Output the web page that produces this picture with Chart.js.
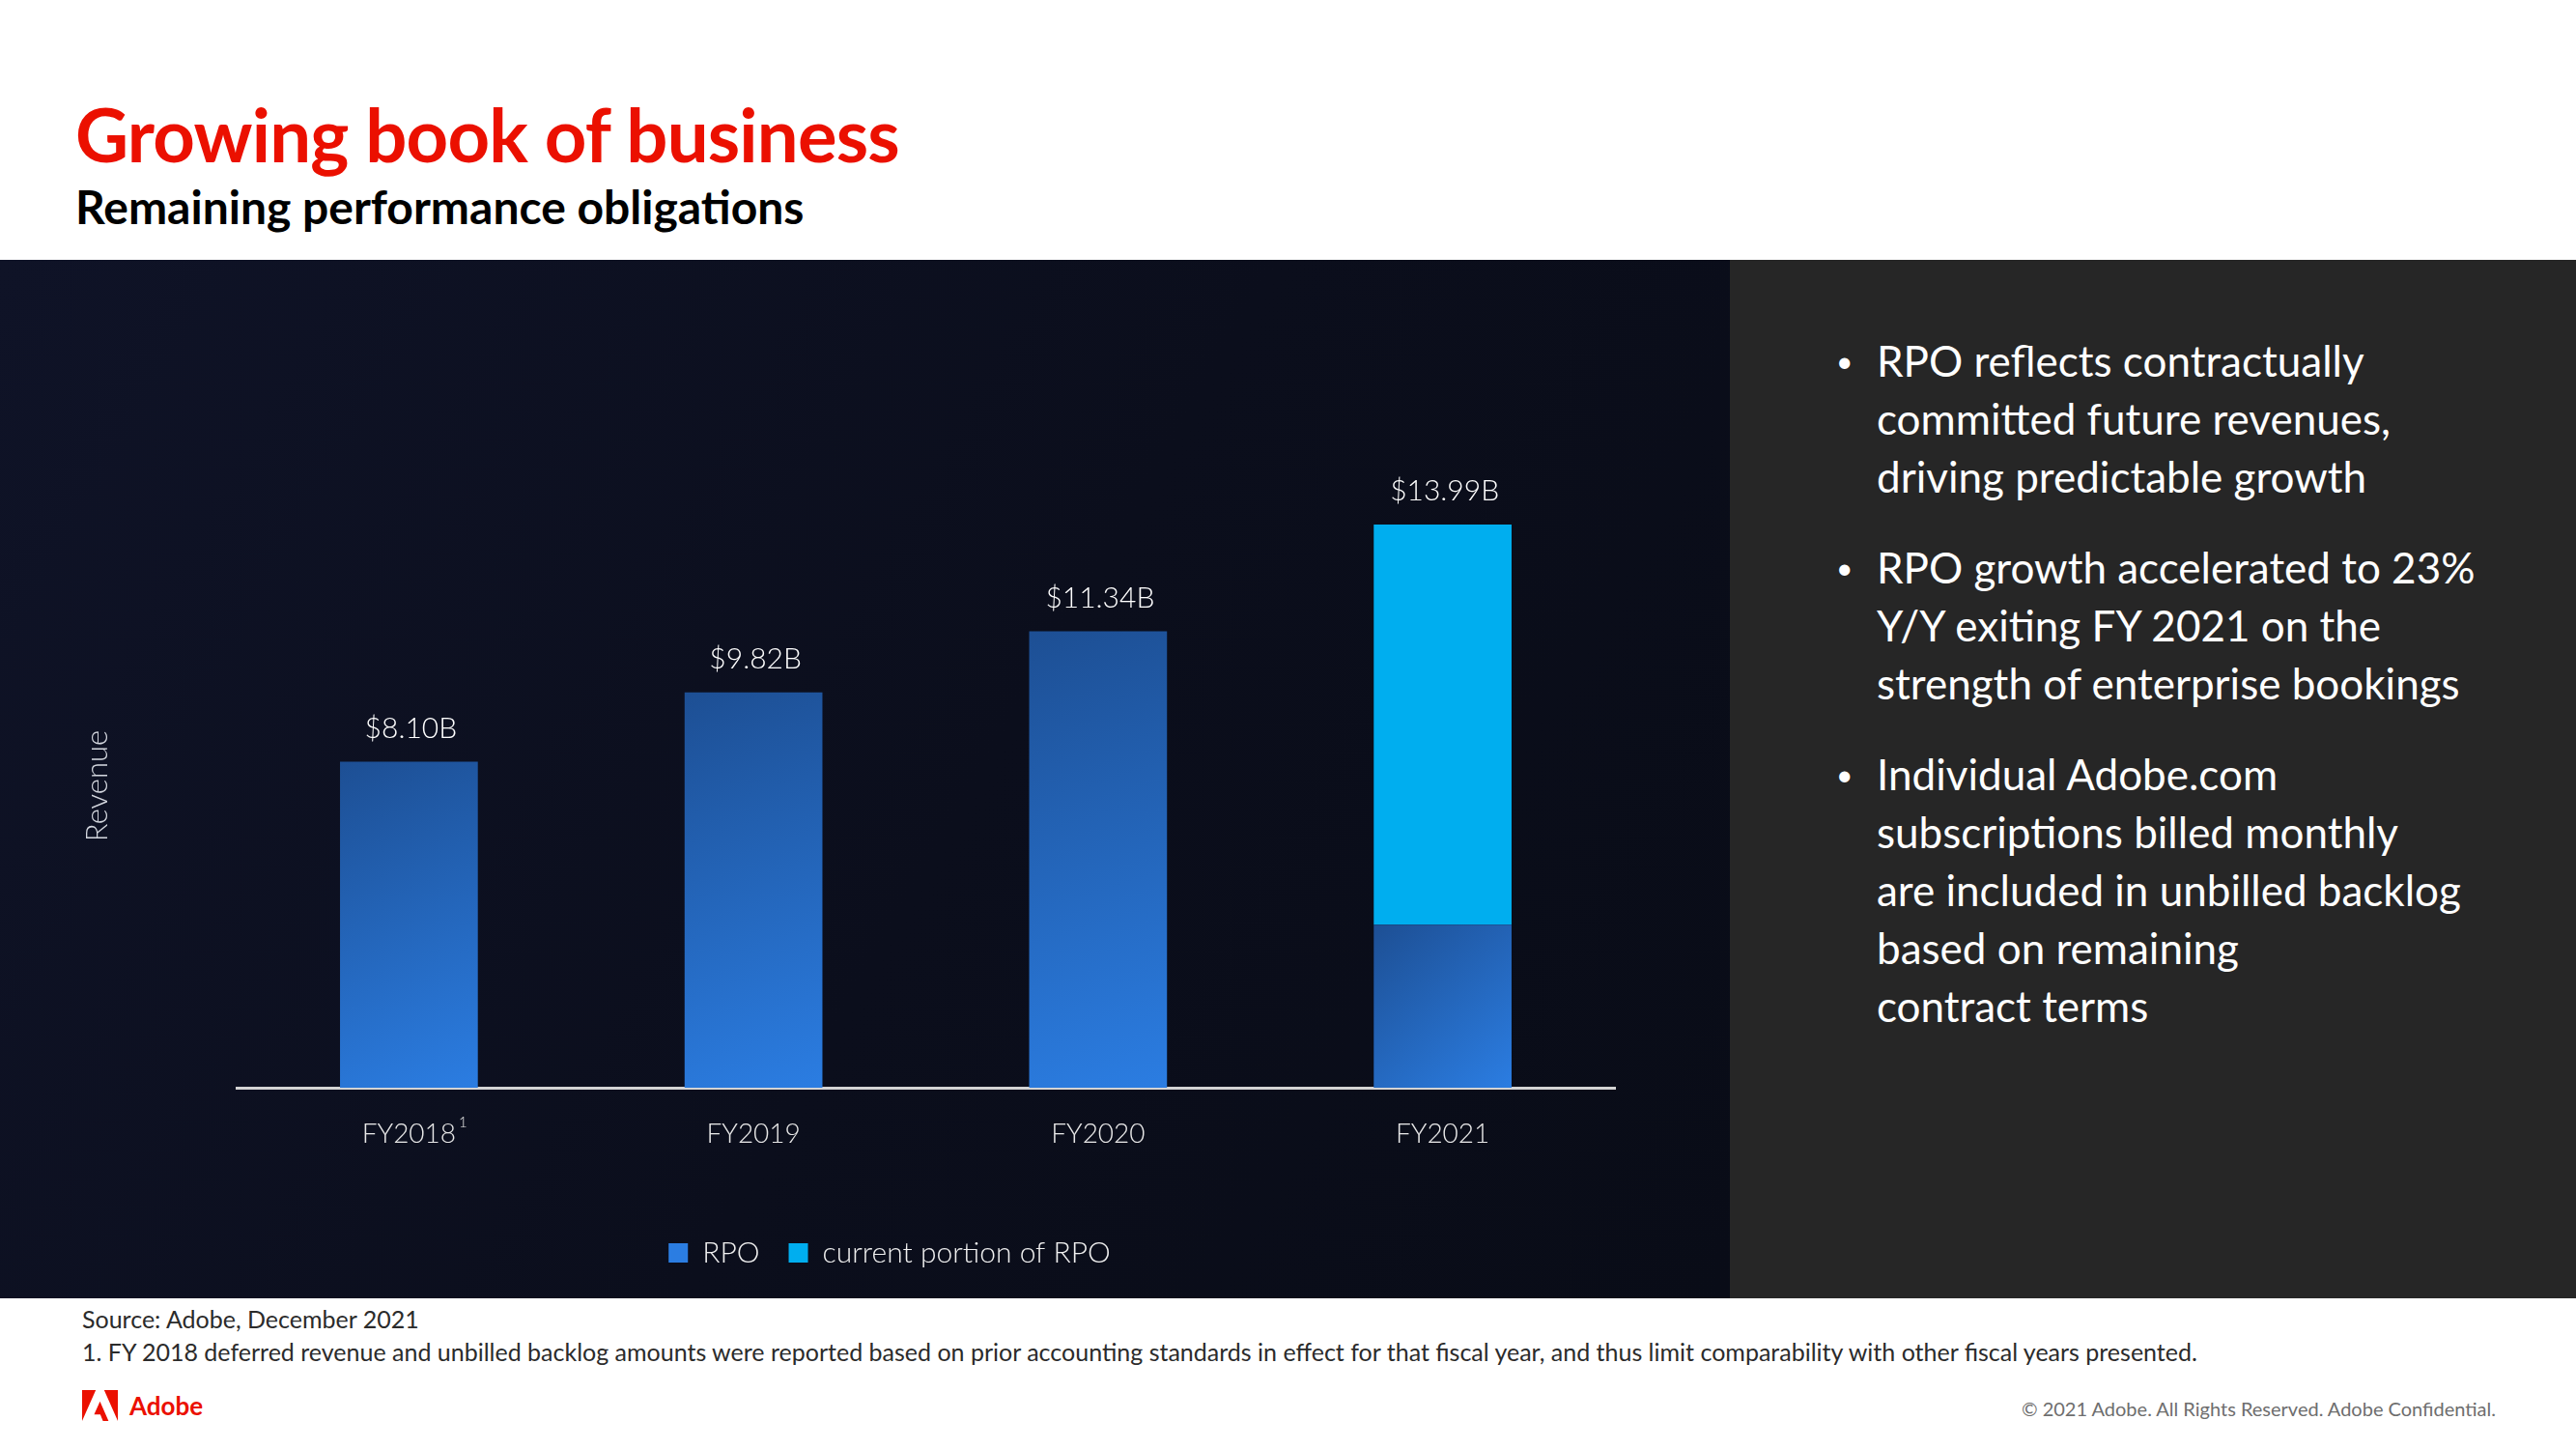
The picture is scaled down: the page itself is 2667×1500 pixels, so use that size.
<!DOCTYPE html>
<html>
<head>
<meta charset="utf-8">
<script src="https://cdn.jsdelivr.net/npm/chart.js@4"></script>
<style>
  html, body { margin: 0; padding: 0; }
  body { width: 2667px; height: 1500px; position: relative; overflow: hidden; background: #fff; font-family: Lato, "Open Sans", sans-serif; }
  .abs { position: absolute; white-space: nowrap; line-height: 1; }
  #title { left: 78px; top: 101px; font-size: 76px; font-weight: 700; color: #eb1000; letter-spacing: -0.8px; }
  #subtitle { left: 78px; top: 190px; font-size: 48px; font-weight: 700; color: #000; }
  #darkPanel { position: absolute; left: 0; top: 269px; width: 1791px; height: 1075px; background: linear-gradient(120deg, #0f1327 0%, #0b0e1c 55%, #090c17 100%); }
  #notesPanel { position: absolute; left: 1791px; top: 269px; width: 876px; height: 1075px; background: #262626; }
  #chartBox { position: absolute; left: 0; top: 269px; width: 1791px; height: 1075px; }
  #notes { position: absolute; left: 1943px; top: 343px; margin: 0; padding: 0; list-style: none; color: #fff; font-size: 44px; font-weight: 400; }
  #notes li { position: relative; line-height: 60px; margin-bottom: 34px; white-space: nowrap; }
  #notes li::before { content: "\2022"; position: absolute; left: -42px; top: 0; font-size: 30px; }
  #source { left: 85px; top: 1353px; font-size: 25px; color: #2b2b2b; }
  #footnote { left: 85px; top: 1387px; font-size: 25px; color: #2b2b2b; }
  #copy { right: 83px; top: 1448px; font-size: 20px; color: #6e6e6e; }
  #logo { position: absolute; left: 85px; top: 1438px; width: 37px; height: 34px; }
  #logoText { left: 134px; top: 1442px; font-size: 26px; font-weight: 700; color: #eb1000; }
</style>
</head>
<body>
<div id="title" class="abs">Growing book of business</div>
<div id="subtitle" class="abs">Remaining performance obligations</div>
<div id="darkPanel"></div>
<div id="notesPanel"></div>
<div id="chartBox"><canvas id="myChart"></canvas></div>
<ul id="notes">
  <li>RPO reflects contractually<br>committed future revenues,<br>driving predictable growth</li>
  <li>RPO growth accelerated to 23%<br>Y/Y exiting FY 2021 on the<br>strength of enterprise bookings</li>
  <li>Individual Adobe.com<br>subscriptions billed monthly<br>are included in unbilled backlog<br>based on remaining<br>contract terms</li>
</ul>
<div id="source" class="abs">Source: Adobe, December 2021</div>
<div id="footnote" class="abs">1. FY 2018 deferred revenue and unbilled backlog amounts were reported based on prior accounting standards in effect for that fiscal year, and thus limit comparability with other fiscal years presented.</div>
<svg id="logo" viewBox="0 0 30 26"><path fill="#eb1000" d="M11.5 0H0v26zM18.5 0H30v26zM15 9.6l7.2 16.4h-4.7l-2.2-5.4h-5.2z"/></svg>
<div id="logoText" class="abs">Adobe</div>
<div id="copy" class="abs">© 2021 Adobe. All Rights Reserved. Adobe Confidential.</div>

<script>
// values in $B
var years = ['FY2018', 'FY2019', 'FY2020', 'FY2021'];
var footMarks = ['1', '', '', ''];
var rpo = [8.10, 9.82, 11.34, 4.05];
var currentRpo = [0, 0, 0, 9.94];
var seriesNames = ['RPO', 'current portion of RPO'];
var yMax = 15;

var BAR_TOP = '#1d4f94';
var BAR_BOTTOM = '#2b7de2';
var CYAN = '#00aeef';
var LIGHT = '300 ';
var FAMILY = 'Lato, "Open Sans", sans-serif';

Chart.defaults.font.family = FAMILY;
Chart.defaults.color = '#e8e8e8';

function rpoFill(context) {
  var chart = context.chart;
  if (!chart.chartArea) return BAR_BOTTOM;
  var xs = chart.scales.x, ys = chart.scales.y;
  var cx = xs.getPixelForValue(context.dataIndex);
  var half = xs.width / years.length * 0.4 / 2;
  var top = ys.getPixelForValue(rpo[context.dataIndex]);
  var g = chart.ctx.createLinearGradient(cx - half, top, cx + half, ys.getPixelForValue(0));
  g.addColorStop(0, BAR_TOP);
  g.addColorStop(1, BAR_BOTTOM);
  return g;
}

var totalsPlugin = {
  id: 'totals',
  afterDatasetsDraw: function(chart) {
    var ctx = chart.ctx, xs = chart.scales.x, ys = chart.scales.y;
    ctx.save();
    ctx.fillStyle = '#ffffff';
    ctx.textAlign = 'center';
    ctx.textBaseline = 'alphabetic';
    ctx.font = LIGHT + '30px ' + FAMILY;
    for (var i = 0; i < years.length; i++) {
      var total = rpo[i] + currentRpo[i];
      ctx.fillText('$' + total.toFixed(2) + 'B', xs.getPixelForValue(i) + 2, ys.getPixelForValue(total) - 25);
    }
    // footnote marks next to the tick labels
    for (var j = 0; j < years.length; j++) {
      if (!footMarks[j]) continue;
      ctx.font = LIGHT + '28px ' + FAMILY;
      var w = ctx.measureText(years[j]).width;
      ctx.font = LIGHT + '15px ' + FAMILY;
      ctx.fillStyle = '#e8e8e8';
      ctx.textAlign = 'left';
      ctx.textBaseline = 'top';
      ctx.fillText(footMarks[j], xs.getPixelForValue(j) + w / 2 + 3, ys.bottom + 29);
    }
    ctx.restore();
  }
};

var ctx = document.getElementById('myChart').getContext('2d');
var myChart = new Chart(ctx, {
  type: 'bar',
  data: {
    labels: years,
    datasets: [{
      label: seriesNames[0],
      data: rpo,
      backgroundColor: rpoFill,
      barPercentage: 0.4,
      categoryPercentage: 1.0,
      borderWidth: 0
    }, {
      label: seriesNames[1],
      data: currentRpo,
      backgroundColor: CYAN,
      barPercentage: 0.4,
      categoryPercentage: 1.0,
      borderWidth: 0
    }]
  },
  options: {
    responsive: true,
    maintainAspectRatio: false,
    animation: false,
    layout: { padding: { left: 79, right: 28, top: 232, bottom: 22 } },
    plugins: {
      tooltip: { enabled: false },
      legend: {
        position: 'bottom',
        labels: {
          color: '#f0f0f0',
          font: { size: 30, weight: '300' },
          boxWidth: 20,
          boxHeight: 20,
          padding: 30,
          generateLabels: function(chart) {
            var cols = [BAR_BOTTOM, CYAN];
            return Chart.defaults.plugins.legend.labels.generateLabels(chart).map(function(l, i) {
              l.fillStyle = cols[i];
              l.strokeStyle = cols[i];
              l.lineWidth = 0;
              return l;
            });
          }
        }
      }
    },
    scales: {
      x: {
        stacked: true,
        grid: { display: false },
        border: { display: true, color: '#d4d4d4', width: 3 },
        ticks: { color: '#e8e8e8', font: { size: 28, weight: '300' }, padding: 23 },
        afterFit: function(s) { s.height = 126; }
      },
      y: {
        stacked: true,
        min: 0,
        max: yMax,
        grid: { display: false },
        border: { display: false },
        ticks: { display: false },
        title: { display: true, text: 'Revenue', color: '#d3d6de', font: { size: 31, weight: '300' }, padding: { top: 3, bottom: 0 } },
        afterFit: function(s) { s.width = 166; }
      },
      yRight: {
        position: 'right',
        grid: { display: false },
        border: { display: false },
        ticks: { display: false },
        afterFit: function(s) { s.width = 91; }
      }
    }
  },
  plugins: [totalsPlugin]
});
</script>
</body>
</html>
